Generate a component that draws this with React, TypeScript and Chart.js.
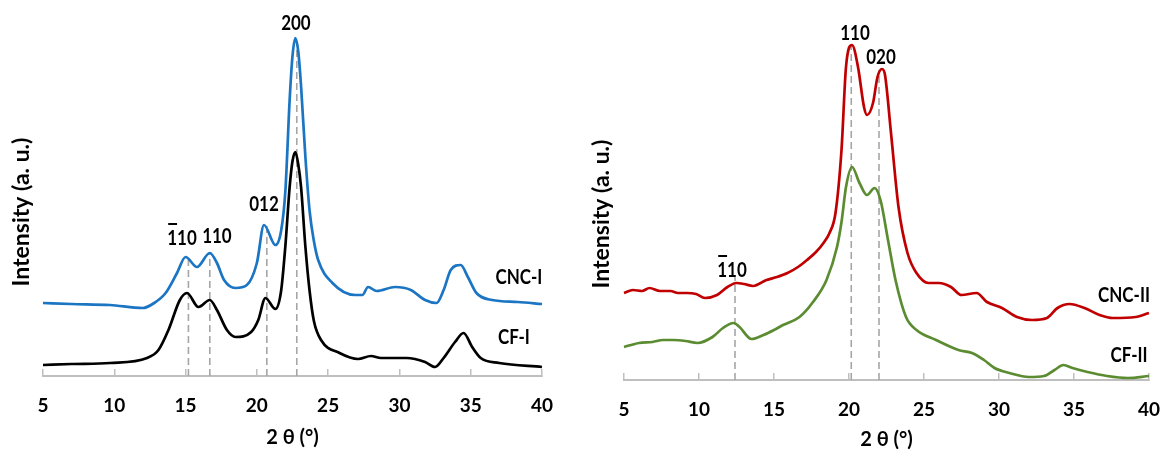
import React, { useEffect, useRef } from 'react';
import { Chart, registerables } from 'chart.js';

Chart.register(...registerables);

const FONT = 'Lato, "Open Sans", sans-serif';

// ---------- Left panel (cellulose I) ----------
const cncITheta = [5.0, 7.0, 9.7, 12.0, 12.8, 13.6, 14.4, 15.0, 15.8, 16.7, 17.2, 17.7, 18.5, 19.3, 20.0, 20.5, 21.3, 21.7, 22.0, 22.3, 22.5, 22.7, 22.9, 23.1, 23.4, 23.7, 24.0, 24.3, 25.3, 26.9, 27.4, 27.8, 28.4, 29.7, 30.8, 31.8, 32.6, 33.1, 33.6, 34.3, 34.8, 35.4, 36.5, 38.3, 40.0];
const cncIIntensity = [73, 72, 71, 68, 73, 83, 103, 119, 109, 123, 113, 96, 88, 91, 113, 151, 131, 145, 185, 276, 320, 338, 325, 290, 220, 165, 135, 116, 93, 81, 81, 89, 85, 89, 86, 76, 73, 86, 106, 111, 99, 83, 76, 74, 72];

const cfITheta = [5.0, 7.0, 9.7, 12.3, 13.1, 13.8, 14.6, 15.1, 15.9, 16.7, 17.2, 17.9, 18.5, 19.6, 20.1, 20.6, 21.3, 21.7, 22.0, 22.3, 22.5, 22.7, 22.9, 23.1, 23.4, 23.7, 24.0, 24.5, 25.8, 27.1, 28.0, 28.7, 30.5, 31.8, 32.5, 33.1, 33.9, 34.5, 35.1, 35.7, 37.0, 40.0];
const cfIIntensity = [11, 12, 13, 18, 26, 46, 76, 83, 69, 76, 66, 46, 39, 44, 56, 78, 67, 85, 130, 189, 215, 224, 212, 189, 130, 85, 55, 36, 23, 17, 20, 18, 18, 14, 9, 18, 34, 43, 29, 18, 13, 9];

const leftPeakPositions = [15.2, 16.7, 20.7, 22.8];
const leftPeakTops = [119, 123, 150, 335];

// ---------- Right panel (cellulose II) ----------
const cncIITheta = [5.0, 5.6, 6.2, 6.7, 7.4, 8.1, 8.6, 9.2, 9.8, 10.4, 11.2, 11.9, 12.5, 13.0, 13.6, 14.5, 15.2, 15.9, 16.6, 17.2, 17.8, 18.3, 18.7, 19.1, 19.5, 19.8, 20.2, 20.6, 21.0, 21.2, 21.6, 21.9, 22.2, 22.4, 22.8, 23.3, 23.9, 24.5, 25.3, 26.0, 26.8, 27.5, 28.5, 29.2, 30.2, 31.2, 32.2, 33.2, 33.9, 34.7, 35.7, 36.7, 37.6, 39.1, 40.0];
const cncIIIntensity = [87, 90, 89, 92, 89, 89, 87, 87, 86, 82, 85, 93, 97, 96, 94, 100, 103, 107, 113, 120, 128, 137, 147, 167, 230, 313, 335, 313, 273, 265, 277, 303, 311, 305, 247, 173, 127, 107, 97, 97, 93, 85, 87, 78, 72, 63, 60, 62, 72, 76, 72, 65, 62, 63, 67];

const cfIITheta = [5.0, 6.0, 6.9, 7.6, 8.3, 9.1, 9.9, 10.9, 11.6, 12.3, 12.7, 13.5, 14.3, 15.0, 15.6, 16.7, 17.6, 18.5, 19.2, 19.5, 19.8, 20.2, 20.7, 21.2, 21.7, 22.1, 22.6, 23.1, 23.8, 24.5, 25.8, 27.3, 28.2, 29.0, 29.7, 30.7, 32.0, 33.0, 33.7, 34.3, 34.9, 35.9, 37.2, 38.6, 40.0];
const cfIIIntensity = [33, 37, 38, 40, 40, 39, 37, 43, 52, 57, 53, 41, 45, 50, 55, 63, 78, 100, 133, 158, 193, 213, 197, 185, 192, 180, 140, 100, 63, 50, 40, 30, 27, 20, 12, 7, 3, 4, 10, 15, 12, 8, 4, 2, 4];

const rightPeakPositions = [12.4, 20.15, 22.0];
const rightPeakTops = [103, 335, 310];

// tick labels
const xTickValues = [5, 10, 15, 20, 25, 30, 35, 40];

// text labels placed in data coordinates
const leftLabels = [
  { text: '110', bar: true, x: 14.75, y: 138 },
  { text: '110', bar: false, x: 17.2, y: 140 },
  { text: '012', bar: false, x: 20.5, y: 172 },
  { text: '200', bar: false, x: 22.74, y: 353 },
  { text: 'CNC-I', bar: false, x: 38.38, y: 99 },
  { text: 'CF-I', bar: false, x: 38.03, y: 39 },
];
const rightLabels = [
  { text: '110', bar: true, x: 12.2, y: 110 },
  { text: '110', bar: false, x: 20.4, y: 347 },
  { text: '020', bar: false, x: 22.13, y: 323 },
  { text: 'CNC-II', bar: false, x: 38.33, y: 85 },
  { text: 'CF-II', bar: false, x: 38.67, y: 25 },
];

const toPoints = (xs: number[], ys: number[]) => xs.map((x, i) => ({ x, y: ys[i] }));

const labelPlugin = {
  id: 'peakLabels',
  afterDatasetsDraw(chart: any, _args: any, opts: any) {
    const { ctx } = chart;
    const xs = chart.scales.x;
    const ys = chart.scales.y;
    for (const a of opts.labels) {
      const px = xs.getPixelForValue(a.x);
      const py = ys.getPixelForValue(a.y);
      ctx.save();
      ctx.font = `bold ${opts.size}px ${FONT}`;
      ctx.fillStyle = '#000';
      ctx.textAlign = 'center';
      ctx.textBaseline = 'middle';
      const w = ctx.measureText(a.text).width;
      const w1 = ctx.measureText(a.text[0]).width;
      ctx.translate(px, py);
      ctx.scale(1, opts.stretch);
      ctx.fillText(a.text, 0, 0);
      ctx.restore();
      if (a.bar) {
        ctx.save();
        ctx.fillStyle = '#000';
        ctx.fillRect(px - w / 2 + 1, py - 15, w1 - 1, 2);
        ctx.restore();
      }
    }
  },
};

function buildConfig(series: any[], peaks: number[], tops: number[], labels: any[], yMax: number, padRight: number, xHeight: number, titlePadBottom: number, yWidth: number) {
  const datasets: any[] = series.map((s) => ({
    data: s.data,
    borderColor: s.color,
    borderWidth: 2.7,
    pointRadius: 0,
    cubicInterpolationMode: 'monotone',
    fill: false,
    clip: false,
    order: 0,
  }));
  peaks.forEach((p, i) => {
    datasets.push({
      data: [{ x: p, y: 0 }, { x: p, y: tops[i] }],
      borderColor: '#a6a6a6',
      borderWidth: 1.6,
      borderDash: [7, 4],
      pointRadius: 0,
      fill: false,
      clip: false,
      order: 10,
    });
  });
  return {
    type: 'line' as const,
    data: { datasets },
    plugins: [labelPlugin],
    options: {
      responsive: false,
      animation: false as const,
      layout: { padding: { top: 48, right: padRight, bottom: 0, left: 0 } },
      plugins: {
        legend: { display: false },
        tooltip: { enabled: false },
        peakLabels: { labels, size: 17, stretch: 1.2 },
      },
      scales: {
        x: {
          type: 'linear' as const,
          min: 5,
          max: 40,
          afterBuildTicks: (scale: any) => {
            scale.ticks = xTickValues.map((v) => ({ value: v }));
          },
          afterFit: (scale: any) => {
            scale.height = xHeight;
            scale.paddingLeft = 0;
            scale.paddingRight = 0;
          },
          ticks: {
            padding: 25,
            color: '#000',
            font: { family: FONT, size: 19, weight: 'bold' as const },
            maxRotation: 0,
          },
          grid: {
            display: true,
            drawOnChartArea: false,
            drawTicks: true,
            tickLength: -7,
            color: '#bfbfbf',
            lineWidth: 1.5,
          },
          border: { display: true, color: '#bfbfbf', width: 2 },
          title: {
            display: true,
            text: '2 θ (°)',
            color: '#000',
            font: { family: FONT, size: 20, weight: 'bold' as const },
            padding: { top: 8, bottom: titlePadBottom },
          },
        },
        y: {
          min: 0,
          max: yMax,
          afterFit: (scale: any) => {
            scale.width = yWidth;
          },
          ticks: { display: false },
          grid: { display: false, drawTicks: false },
          border: { display: false },
          title: {
            display: true,
            text: 'Intensity (a. u.)',
            color: '#000',
            font: { family: FONT, size: 23, weight: 'bold' as const },
            padding: { top: 8, bottom: 8 },
          },
        },
      },
    },
  };
}

function Panel({ config, left, width }: { config: any; left: number; width: number }) {
  const ref = useRef<HTMLCanvasElement>(null);
  useEffect(() => {
    if (!ref.current) return;
    const chart = new Chart(ref.current, config);
    return () => chart.destroy();
  }, [config]);
  return (
    <canvas
      ref={ref}
      width={width}
      height={453}
      style={{ position: 'absolute', left, top: 0, width, height: 453, display: 'block' }}
    />
  );
}

const leftConfig = buildConfig(
  [
    { data: toPoints(cncITheta, cncIIntensity), color: '#1b75c3' },
    { data: toPoints(cfITheta, cfIIntensity), color: '#000000' },
  ],
  leftPeakPositions,
  leftPeakTops,
  leftLabels,
  328,
  38,
  77,
  3,
  43
);

const rightConfig = buildConfig(
  [
    { data: toPoints(cncIITheta, cncIIIntensity), color: '#c00000' },
    { data: toPoints(cfIITheta, cfIIIntensity), color: '#5b8c32' },
  ],
  rightPeakPositions,
  rightPeakTops,
  rightLabels,
  332,
  13,
  73,
  1,
  44
);

export default function App() {
  return (
    <div style={{ position: 'absolute', left: 0, top: 0, width: 1162, height: 453, background: '#fff', overflow: 'hidden' }}>
      <Panel config={leftConfig} left={0} width={580} />
      <Panel config={rightConfig} left={580} width={582} />
    </div>
  );
}
